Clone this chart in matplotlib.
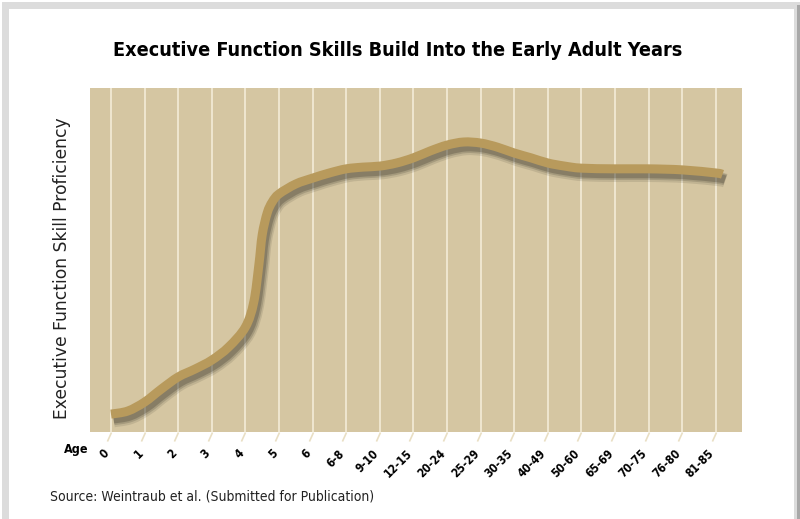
import matplotlib
matplotlib.use("Agg")
import matplotlib.pyplot as plt
import matplotlib.patheffects as pe
import matplotlib.transforms as mtransforms
from matplotlib.patches import Rectangle, PathPatch
from matplotlib.path import Path

# age groups on the x axis
age_labels = ['0', '1', '2', '3', '4', '5', '6', '6-8', '9-10', '12-15', '20-24',
              '25-29', '30-35', '40-49', '50-60', '65-69', '70-75', '76-80', '81-85']

# curve: position along the age axis, proficiency (0-100)
curve_x = [0, 0.5, 1, 1.5, 2, 2.5, 3, 3.5, 4, 4.25, 4.4, 4.5, 4.65, 4.8, 5, 5.5,
           6, 6.5, 7, 7.5, 8, 8.5, 9, 9.5, 10, 10.5, 11, 11.5, 12, 12.5, 13, 13.5,
           14, 15, 16, 17, 18, 18.2]
curve_y = [5.2, 6.1, 8.7, 12.5, 16.0, 18.3, 20.9, 24.7, 30.5, 37.8, 48.5, 57.3,
           63.7, 66.9, 69.2, 72.1, 73.8, 75.3, 76.5, 77.0, 77.3, 78.2, 79.7, 81.7,
           83.4, 84.3, 84.0, 82.8, 81.1, 79.7, 78.2, 77.3, 76.7, 76.5, 76.5, 76.2,
           75.3, 74.9]

TITLE = "Executive Function Skills Build Into the Early Adult Years"
Y_LABEL = "Executive Function Skill Proficiency"
SOURCE = "Source: Weintraub et al. (Submitted for Publication)"

BG = '#d5c6a2'
GRID = '#f1e9d3'
LINE = '#b89a5c'
COND = dict(family='DejaVu Sans', fontstretch='condensed')

W, H = 800, 519
fig = plt.figure(figsize=(W / 100, H / 100), dpi=100)
fig.patch.set_facecolor('white')

def px(x0, y0, w, h):
    # pixel box (top-left origin) -> figure fraction rect
    return (x0 / W, 1 - (y0 + h) / H, w / W, h / H)

# page frame
l, b, w, h = px(5, 5, 792, 530)
fig.add_artist(Rectangle((l, b), w, h, transform=fig.transFigure,
                         facecolor='none', edgecolor='#dcdcdc', lw=5))
l, b, w, h = px(797, 5, 3, 520)
fig.add_artist(Rectangle((l, b), w, h, transform=fig.transFigure,
                         facecolor='#a8a8a8', edgecolor='none'))

ax = fig.add_axes(px(90, 88, 652, 344))
ax.set_facecolor(BG)
for s in ax.spines.values():
    s.set_visible(False)

# smooth stroke through the read points (cubic bezier segments, catmull-rom style)
verts = [(curve_x[0], curve_y[0])]
codes = [Path.MOVETO]
n = len(curve_x)
for i in range(n - 1):
    x0, y0 = curve_x[max(i - 1, 0)], curve_y[max(i - 1, 0)]
    x1, y1 = curve_x[i], curve_y[i]
    x2, y2 = curve_x[i + 1], curve_y[i + 1]
    x3, y3 = curve_x[min(i + 2, n - 1)], curve_y[min(i + 2, n - 1)]
    verts += [(x1 + (x2 - x0) / 6, y1 + (y2 - y0) / 6),
              (x2 - (x3 - x1) / 6, y2 - (y3 - y1) / 6),
              (x2, y2)]
    codes += [Path.CURVE4] * 3
curve = PathPatch(Path(verts, codes), fill=False, edgecolor=LINE, lw=6.5,
                  capstyle='butt', joinstyle='round', zorder=3,
                  path_effects=[
                      pe.SimpleLineShadow(offset=(2, -4.5), shadow_color='#2e2a20', alpha=0.12, linewidth=10),
                      pe.SimpleLineShadow(offset=(2, -4), shadow_color='#2e2a20', alpha=0.18, linewidth=8),
                      pe.SimpleLineShadow(offset=(1.8, -3.8), shadow_color='#2e2a20', alpha=0.25, linewidth=6),
                      pe.Normal()])
ax.add_patch(curve)

ax.set_xlim(-0.625, 18.78)
ax.set_ylim(0, 100)
ax.set_yticks([])
ax.set_xticks(range(len(age_labels)))
ax.set_xticklabels([])
ax.tick_params(axis='x', length=0)
ax.grid(axis='x', color=GRID, lw=1.3)

# tick labels and slanted tick marks under the plot
trans = mtransforms.blended_transform_factory(ax.transData, ax.transAxes)
lab_trans = trans + mtransforms.ScaledTranslation(-8 / 100, -15 / 100, fig.dpi_scale_trans)
for i, lab in enumerate(age_labels):
    ax.text(i, 0, lab, transform=lab_trans, rotation=45, ha='right', va='top',
            rotation_mode='anchor', fontsize=8.5, fontweight='bold', **COND)
slash = Path([(0, 0), (-0.45, -1)], [Path.MOVETO, Path.LINETO])
ax.plot(range(len(age_labels)), [0] * len(age_labels), linestyle='none',
        marker=slash, markersize=13, markeredgecolor='#e9dfc4',
        markeredgewidth=1.2, transform=trans, clip_on=False)

fig.text(398 / W, 1 - 50 / H, TITLE, ha='center', va='center', fontsize=14.2,
         fontweight='bold', **COND)
fig.text(62 / W, 1 - 268 / H, Y_LABEL, rotation=90, ha='center', va='center',
         fontsize=12.3, color='#222222')
fig.text(76 / W, 1 - 450 / H, 'Age', ha='center', va='center', fontsize=9,
         fontweight='bold', **COND)
fig.text(50 / W, 1 - 497 / H, SOURCE, ha='left', va='center', fontsize=10,
         color='#222222', **COND)

fig.savefig('out.png', dpi=100, facecolor='white')
